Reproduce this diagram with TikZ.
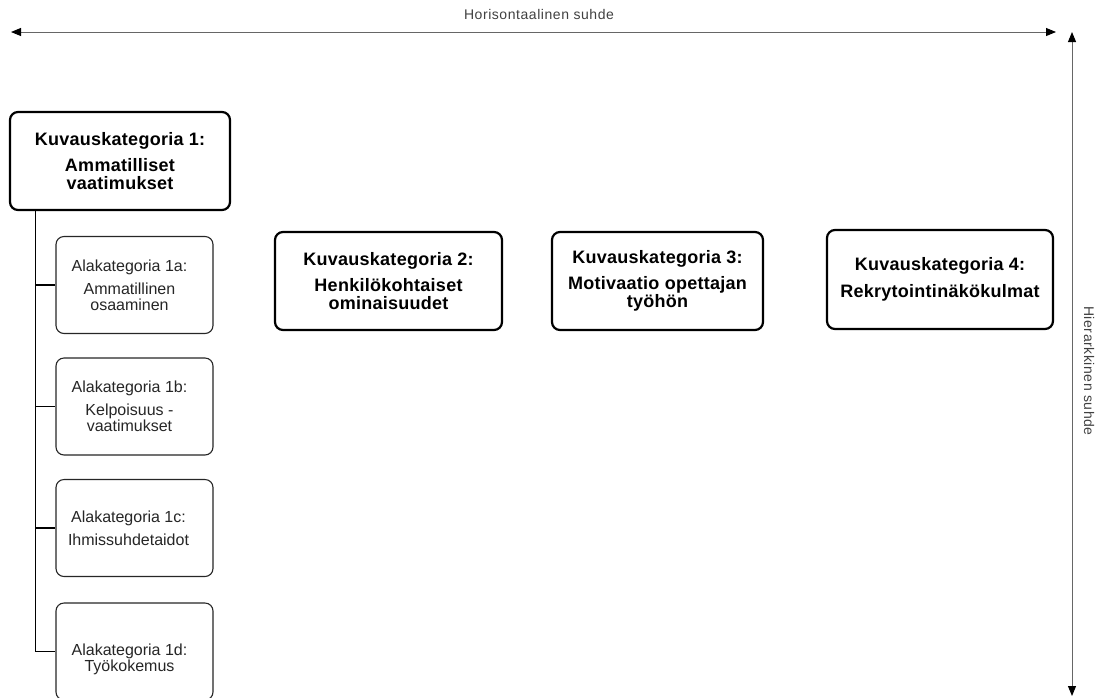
\documentclass[tikz,border=0pt]{standalone}
\usepackage{fontspec}
\setmainfont{Liberation Sans}
\usetikzlibrary{arrows.meta,calc}
\begin{document}
\begin{tikzpicture}[x=1pt,y=-1pt,
  mainbox/.style={draw=black,line width=2.2pt,rounded corners=8pt,fill=white,align=center,
    inner sep=0pt,font=\fontsize{18}{18}\selectfont\bfseries\addfontfeature{LetterSpace=1.5}},
  subbox/.style={draw=black!85,line width=1.1pt,rounded corners=8pt,fill=white,
    inner sep=0pt,minimum width=157pt,minimum height=97pt},
  subtext/.style={align=center,inner sep=0pt,font=\fontsize{16}{16}\selectfont,text=black!85},
  axis/.style={draw=black!60,line width=1pt,{Triangle[length=10pt,width=8pt,fill=black,color=black]}-{Triangle[length=10pt,width=8pt,fill=black,color=black]}},
  axislabel/.style={font=\fontsize{14}{16}\selectfont\addfontfeature{LetterSpace=4},text=black!75,inner sep=0pt},
  conn/.style={draw=black,line width=1.1pt}]
\useasboundingbox (0,0) rectangle (1099,697);

% axes
\coordinate (hl) at (11,32);
\coordinate (hr) at (1056,32);
\coordinate (vt) at (1072,32);
\coordinate (vb) at (1072,696);
\draw[axis] (hl) -- (hr);
\draw[axis] (vt) -- (vb);
\node[axislabel] (hlab) at (539,14) {Horisontaalinen suhde};
\node[axislabel,rotate=-90] (vlab) at (1089,371) {Hierarkkinen suhde};

% main categories
\node[mainbox,minimum width=220pt,minimum height=98pt] (c1) at (120,161)
  {Kuvauskategoria 1:\\[8pt]Ammatilliset\\vaatimukset};
\node[mainbox,minimum width=227pt,minimum height=98pt] (c2) at (388.5,281)
  {Kuvauskategoria 2:\\[8pt]Henkilökohtaiset\\ominaisuudet};
\node[mainbox,minimum width=211pt,minimum height=98pt] (c3) at (657.5,281)
  {Kuvauskategoria 3:\\[8pt]Motivaatio opettajan\\työhön};
\node[mainbox,minimum width=226pt,minimum height=99pt] (c4) at (940,279.5)
  {Kuvauskategoria 4:\\[9pt]Rekrytointinäkökulmat};

% subcategories
\node[subbox] (s1a) at (134.5,285) {};
\node[subbox] (s1b) at (134.5,406.5) {};
\node[subbox] (s1c) at (134.5,528) {};
\node[subbox] (s1d) at (134.5,651.5) {};
\node[subtext] (s1a-t) at ($(s1a.center)+(-5,0)$) {Alakategoria 1a:\\[7pt]Ammatillinen\\osaaminen};
\node[subtext] (s1b-t) at ($(s1b.center)+(-5,0)$) {Alakategoria 1b:\\[7pt]Kelpoisuus -\\vaatimukset};
\node[subtext] (s1c-t) at ($(s1c.center)+(-6,0)$) {Alakategoria 1c:\\[7pt]Ihmissuhdetaidot};
\node[subtext] (s1d-t) at ($(s1d.center)+(-5,8)$) {Alakategoria 1d:\\Työkokemus};

% tree connectors
\coordinate (t) at ($(c1.south west)+(27,0)$);
\draw[conn] (t) |- (s1d.west);
\draw[conn] (t |- s1a.west) -- (s1a.west);
\draw[conn] (t |- s1b.west) -- (s1b.west);
\draw[conn] (t |- s1c.west) -- (s1c.west);
\end{tikzpicture}
\end{document}
